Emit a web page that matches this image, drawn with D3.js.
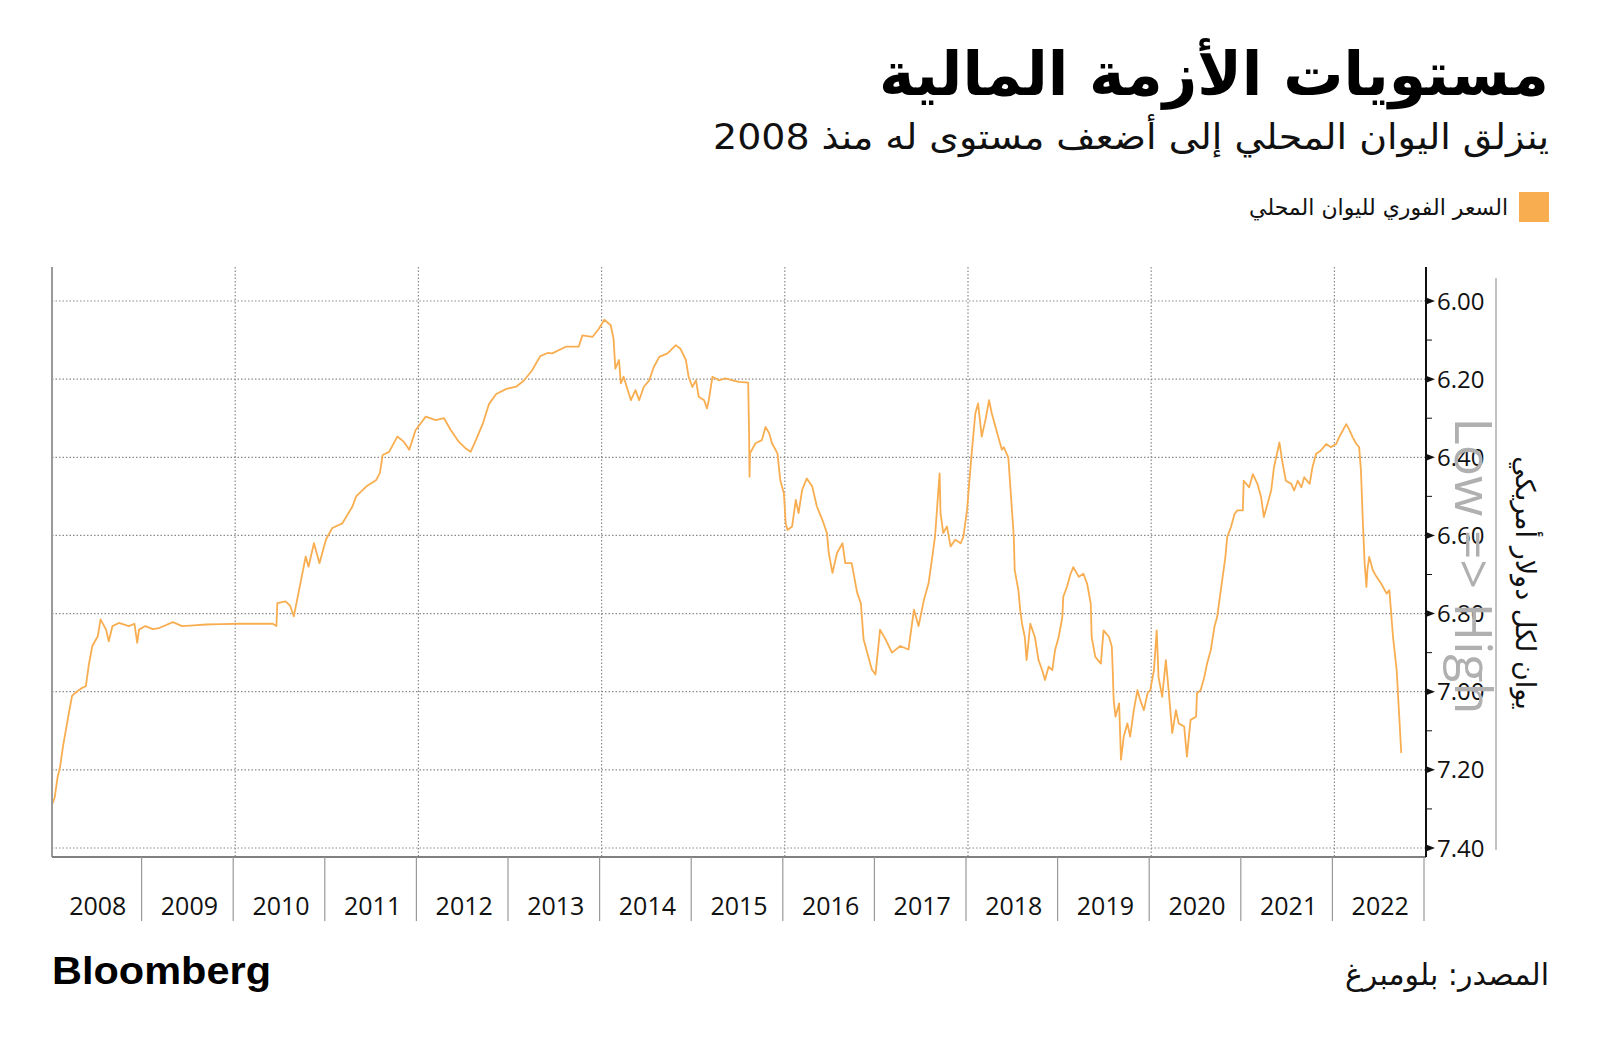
<!DOCTYPE html>
<html>
<head>
<meta charset="utf-8">
<script src="https://cdn.jsdelivr.net/npm/d3@7"></script>
<style>
  body { margin: 0; background: #fff; }
  svg text { font-family: "Open Sans", sans-serif; }
  .ar { font-family: "DejaVu Sans", sans-serif; }
</style>
</head>
<body>
<div id="chart"></div>
<script>
var width = 1600,
  height = 1050,
  plot = {left: 52, right: 1426, top: 267, bottom: 857};

// decimal year / yuan per dollar
var years = [
  2008.00, 2008.03, 2008.06, 2008.09, 2008.12, 2008.15, 2008.18, 2008.22, 2008.27, 2008.33,
  2008.37, 2008.40, 2008.44, 2008.50, 2008.53, 2008.59, 2008.62, 2008.66, 2008.73, 2008.84,
  2008.90, 2008.93, 2008.95, 2009.02, 2009.10, 2009.17, 2009.32, 2009.42, 2009.55, 2009.68,
  2009.85, 2010.04, 2010.20, 2010.41, 2010.45, 2010.46, 2010.55, 2010.60, 2010.64, 2010.72,
  2010.77, 2010.80, 2010.86, 2010.92, 2010.99, 2011.06, 2011.17, 2011.28, 2011.32, 2011.43,
  2011.54, 2011.58, 2011.61, 2011.68, 2011.77, 2011.84, 2011.90, 2011.97, 2012.08, 2012.19,
  2012.28, 2012.35, 2012.44, 2012.51, 2012.57, 2012.63, 2012.70, 2012.77, 2012.85, 2012.96,
  2013.07, 2013.15, 2013.24, 2013.33, 2013.41, 2013.46, 2013.61, 2013.75, 2013.79, 2013.90,
  2013.97, 2014.03, 2014.10, 2014.13, 2014.15, 2014.19, 2014.21, 2014.24, 2014.32, 2014.37,
  2014.41, 2014.46, 2014.52, 2014.57, 2014.63, 2014.72, 2014.81, 2014.86, 2014.92, 2014.95,
  2014.99, 2015.03, 2015.06, 2015.12, 2015.15, 2015.17, 2015.21, 2015.28, 2015.35, 2015.43,
  2015.50, 2015.60, 2015.61, 2015.615, 2015.62, 2015.68, 2015.75, 2015.79, 2015.83, 2015.86,
  2015.92, 2015.95, 2015.99, 2016.01, 2016.03, 2016.08, 2016.12, 2016.15, 2016.19, 2016.24,
  2016.30, 2016.35, 2016.41, 2016.46, 2016.48, 2016.52, 2016.57, 2016.63, 2016.66, 2016.73,
  2016.75, 2016.79, 2016.83, 2016.86, 2016.90, 2016.95, 2016.99, 2017.04, 2017.10, 2017.17,
  2017.26, 2017.35, 2017.41, 2017.46, 2017.52, 2017.57, 2017.61, 2017.64, 2017.69, 2017.70,
  2017.73, 2017.77, 2017.81, 2017.86, 2017.92, 2017.95, 2017.99, 2018.01, 2018.04, 2018.08,
  2018.11, 2018.15, 2018.19, 2018.23, 2018.26, 2018.32, 2018.37, 2018.39, 2018.44, 2018.48,
  2018.50, 2018.51, 2018.55, 2018.57, 2018.59, 2018.62, 2018.64, 2018.68, 2018.73, 2018.77,
  2018.81, 2018.84, 2018.88, 2018.92, 2018.95, 2018.99, 2019.03, 2019.04, 2019.08, 2019.12,
  2019.15, 2019.21, 2019.26, 2019.30, 2019.34, 2019.35, 2019.39, 2019.45, 2019.48, 2019.54,
  2019.57, 2019.58, 2019.59, 2019.61, 2019.65, 2019.67, 2019.70, 2019.74, 2019.77, 2019.81,
  2019.85, 2019.88, 2019.92, 2019.96, 2019.99, 2020.03, 2020.06, 2020.08, 2020.12, 2020.16,
  2020.19, 2020.23, 2020.27, 2020.30, 2020.36, 2020.39, 2020.43, 2020.49, 2020.50, 2020.54,
  2020.58, 2020.61, 2020.65, 2020.69, 2020.72, 2020.75, 2020.78, 2020.81, 2020.83, 2020.87,
  2020.91, 2020.94, 2021.00, 2021.01, 2021.07, 2021.11, 2021.16, 2021.20, 2021.23, 2021.27,
  2021.31, 2021.34, 2021.40, 2021.43, 2021.47, 2021.53, 2021.56, 2021.60, 2021.64, 2021.67,
  2021.73, 2021.76, 2021.80, 2021.85, 2021.91, 2021.96, 2022.02, 2022.05, 2022.09, 2022.13,
  2022.16, 2022.20, 2022.24, 2022.27, 2022.29, 2022.31, 2022.33, 2022.35, 2022.36, 2022.38,
  2022.42, 2022.46, 2022.51, 2022.57, 2022.60, 2022.64, 2022.68, 2022.70, 2022.73
];

var spotRate = [
  7.29, 7.27, 7.22, 7.19, 7.14, 7.10, 7.06, 7.01, 7.00, 6.99,
  6.986, 6.934, 6.883, 6.858, 6.815, 6.841, 6.871, 6.832, 6.824, 6.832,
  6.826, 6.875, 6.841, 6.832, 6.840, 6.837, 6.822, 6.832, 6.830, 6.828,
  6.827, 6.826, 6.826, 6.826, 6.832, 6.773, 6.769, 6.780, 6.807, 6.713,
  6.654, 6.680, 6.620, 6.671, 6.611, 6.581, 6.569, 6.526, 6.500, 6.475,
  6.458, 6.440, 6.394, 6.386, 6.347, 6.360, 6.381, 6.330, 6.296, 6.305,
  6.300, 6.329, 6.360, 6.376, 6.386, 6.355, 6.316, 6.264, 6.238, 6.225,
  6.219, 6.204, 6.178, 6.141, 6.133, 6.134, 6.117, 6.117, 6.088, 6.092,
  6.071, 6.048, 6.062, 6.096, 6.173, 6.151, 6.211, 6.194, 6.254, 6.228,
  6.254, 6.220, 6.203, 6.169, 6.143, 6.134, 6.113, 6.122, 6.151, 6.194,
  6.220, 6.203, 6.245, 6.254, 6.275, 6.254, 6.194, 6.203, 6.198, 6.203,
  6.207, 6.209, 6.334, 6.450, 6.390, 6.364, 6.356, 6.322, 6.339, 6.364,
  6.390, 6.458, 6.492, 6.569, 6.586, 6.577, 6.509, 6.543, 6.483, 6.454,
  6.475, 6.526, 6.560, 6.594, 6.645, 6.696, 6.645, 6.620, 6.671, 6.671,
  6.696, 6.747, 6.773, 6.866, 6.900, 6.943, 6.956, 6.841, 6.866, 6.900,
  6.883, 6.892, 6.790, 6.832, 6.764, 6.722, 6.654, 6.603, 6.441, 6.543,
  6.594, 6.577, 6.628, 6.611, 6.620, 6.603, 6.534, 6.475, 6.390, 6.288,
  6.262, 6.347, 6.305, 6.254, 6.288, 6.339, 6.381, 6.374, 6.400, 6.536,
  6.604, 6.689, 6.740, 6.791, 6.826, 6.860, 6.919, 6.826, 6.860, 6.919,
  6.945, 6.970, 6.936, 6.945, 6.894, 6.860, 6.809, 6.757, 6.732, 6.698,
  6.681, 6.706, 6.698, 6.723, 6.774, 6.860, 6.911, 6.928, 6.843, 6.860,
  6.885, 6.945, 7.020, 7.064, 7.030, 7.174, 7.115, 7.081, 7.115, 7.047,
  6.996, 7.021, 7.047, 7.004, 6.996, 6.945, 6.843, 6.962, 7.013, 6.919,
  6.996, 7.106, 7.047, 7.081, 7.089, 7.166, 7.072, 7.064, 7.004, 6.996,
  6.962, 6.928, 6.894, 6.834, 6.809, 6.757, 6.706, 6.655, 6.604, 6.579,
  6.545, 6.536, 6.536, 6.460, 6.477, 6.443, 6.468, 6.502, 6.553, 6.519,
  6.485, 6.426, 6.362, 6.409, 6.460, 6.468, 6.485, 6.460, 6.477, 6.451,
  6.468, 6.426, 6.391, 6.383, 6.366, 6.374, 6.366, 6.349, 6.332, 6.315,
  6.328, 6.349, 6.366, 6.374, 6.434, 6.562, 6.672, 6.732, 6.689, 6.655,
  6.689, 6.706, 6.723, 6.749, 6.740, 6.860, 6.945, 7.030, 7.157
];

var yearLabels = ["2008", "2009", "2010", "2011", "2012", "2013", "2014", "2015",
  "2016", "2017", "2018", "2019", "2020", "2021", "2022"];
var yTicks = [6.0, 6.2, 6.4, 6.6, 6.8, 7.0, 7.2, 7.4];
var yMinor = [6.1, 6.3, 6.5, 6.7, 6.9, 7.1, 7.3];
var xGrid = [2010, 2012, 2014, 2016, 2018, 2020, 2022];

var lineColor = "#f8ae50";

var svg = d3.select("#chart").append("svg")
  .attr("width", width)
  .attr("height", height);

var x = d3.scaleLinear().domain([2008, 2023]).range([plot.left, plot.right]),
  y = d3.scaleLinear().domain([6.0, 7.4]).range([301, 848]);

// arabic text: rtl base direction, so "start" is the right edge
function arText(px, py, size, str) {
  return svg.append("text").attr("class", "ar")
    .attr("x", px).attr("y", py)
    .attr("direction", "rtl")
    .attr("text-anchor", "start")
    .style("font-size", size + "px")
    .attr("fill", "#111")
    .text(str);
}

// titles
arText(1549, 95, 60, "مستويات الأزمة المالية")
  .style("font-weight", "bold").attr("fill", "#000");
arText(1549, 149, 35, "ينزلق اليوان المحلي إلى أضعف مستوى له منذ 2008")
  .attr("textLength", 836)
  .attr("lengthAdjust", "spacingAndGlyphs");

// legend
svg.append("rect")
  .attr("x", 1519).attr("y", 192)
  .attr("width", 30).attr("height", 30)
  .attr("fill", lineColor);
arText(1508, 215, 22, "السعر الفوري لليوان المحلي");

// grid
svg.append("g").selectAll("line")
  .data(yTicks)
  .enter().append("line")
  .attr("x1", plot.left).attr("x2", plot.right)
  .attr("y1", function(d) { return y(d); })
  .attr("y2", function(d) { return y(d); })
  .attr("stroke", "#8a8a8a")
  .attr("stroke-width", 1.2)
  .attr("stroke-dasharray", "1.5,2");

svg.append("g").selectAll("line")
  .data(xGrid)
  .enter().append("line")
  .attr("x1", function(d) { return x(d); })
  .attr("x2", function(d) { return x(d); })
  .attr("y1", plot.top).attr("y2", plot.bottom)
  .attr("stroke", "#8a8a8a")
  .attr("stroke-width", 1.2)
  .attr("stroke-dasharray", "1.5,2");

// the series
var line = d3.line()
  .x(function(d) { return x(d[0]); })
  .y(function(d) { return y(d[1]); });

svg.append("path")
  .datum(d3.zip(years, spotRate))
  .attr("d", line)
  .attr("fill", "none")
  .attr("stroke", lineColor)
  .attr("stroke-width", 1.8)
  .attr("stroke-linejoin", "round");

// left + bottom frame
svg.append("line")
  .attr("x1", plot.left).attr("x2", plot.left)
  .attr("y1", plot.top).attr("y2", plot.bottom)
  .attr("stroke", "#9a9a9a").attr("stroke-width", 2);
svg.append("line")
  .attr("x1", plot.left).attr("x2", plot.right)
  .attr("y1", plot.bottom).attr("y2", plot.bottom)
  .attr("stroke", "#808080").attr("stroke-width", 2);

// x axis: year separators and centred labels
svg.append("g").selectAll("line")
  .data(d3.range(2009, 2024))
  .enter().append("line")
  .attr("x1", function(d) { return x(d) - 2; })
  .attr("x2", function(d) { return x(d) - 2; })
  .attr("y1", plot.bottom).attr("y2", 921)
  .attr("stroke", "#999").attr("stroke-width", 1.2);

svg.append("g").selectAll("text")
  .data(yearLabels)
  .enter().append("text")
  .attr("x", function(d) { return x(+d + 0.5); })
  .attr("y", 915)
  .attr("text-anchor", "middle")
  .style("font-size", "25px")
  .attr("fill", "#111")
  .text(function(d) { return d; });

// right axis
svg.append("line")
  .attr("x1", plot.right).attr("x2", plot.right)
  .attr("y1", plot.top).attr("y2", plot.bottom)
  .attr("stroke", "#111").attr("stroke-width", 2);

svg.append("g").selectAll("path")
  .data(yTicks)
  .enter().append("path")
  .attr("d", function(d) {
    var yy = y(d);
    return "M" + plot.right + "," + (yy - 3.5) + "L" + (plot.right + 9) + "," + yy + "L" + plot.right + "," + (yy + 3.5) + "Z";
  })
  .attr("fill", "#111");

svg.append("g").selectAll("line")
  .data(yMinor)
  .enter().append("line")
  .attr("x1", plot.right).attr("x2", plot.right + 6)
  .attr("y1", function(d) { return y(d); })
  .attr("y2", function(d) { return y(d); })
  .attr("stroke", "#111").attr("stroke-width", 1);

svg.append("g").selectAll("text")
  .data(yTicks)
  .enter().append("text")
  .attr("x", 1437)
  .attr("y", function(d) { return y(d) + 8.5; })
  .style("font-size", "24px")
  .attr("fill", "#111")
  .text(function(d) { return d3.format(".2f")(d); });

svg.append("line")
  .attr("x1", 1496).attr("x2", 1496)
  .attr("y1", 278).attr("y2", 850)
  .attr("stroke", "#999").attr("stroke-width", 1.2);

// inverted-axis note and unit
svg.append("text")
  .attr("transform", "translate(1455,566) rotate(90)")
  .attr("text-anchor", "middle")
  .style("font-size", "52px")
  .attr("fill", "#b0b0b0")
  .text("Low => High");

svg.append("text").attr("class", "ar")
  .attr("transform", "translate(1516,583) rotate(90)")
  .attr("text-anchor", "middle")
  .attr("direction", "rtl")
  .style("font-size", "27px")
  .attr("fill", "#111")
  .text("يوان لكل دولار أمريكي");

// footer
svg.append("text")
  .attr("x", 52).attr("y", 984)
  .style("font-family", "'Liberation Sans', Arial, sans-serif")
  .style("font-size", "39px").style("font-weight", "bold")
  .attr("textLength", 219)
  .attr("lengthAdjust", "spacingAndGlyphs")
  .attr("fill", "#000")
  .text("Bloomberg");

arText(1549, 985, 30, "المصدر: بلومبرغ");
</script>
</body>
</html>
